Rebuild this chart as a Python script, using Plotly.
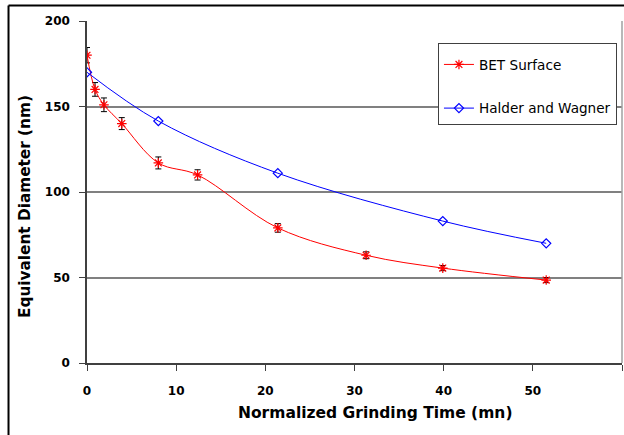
import plotly.graph_objects as go

# Data
bet_time = [0, 0.9, 1.9, 3.9, 8.0, 12.4, 21.4, 31.3, 39.9, 51.5]
bet_diam = [180, 160, 151, 140, 117, 110, 79, 63, 55.5, 48.5]
bet_err = [4.5, 4, 4, 3.5, 3.5, 3, 2.5, 2, 1.5, 1.5]

hw_time = [0, 8.0, 21.4, 39.9, 51.5]
hw_diam = [170, 141.5, 111, 83, 70]

x_ticks = [0, 10, 20, 30, 40, 50, 60]
y_ticks = [0, 50, 100, 150, 200]

FONT = "DejaVu Sans"

fig = go.Figure()
fig.add_trace(go.Scatter(
    x=bet_time, y=bet_diam, name="BET Surface", mode="lines+markers",
    legendgroup="a",
    line=dict(color="#ff0000", width=1, shape="spline"),
    marker=dict(symbol="asterisk-open", size=8, color="#ff0000",
                line=dict(color="#ff0000", width=1.2)),
    error_y=dict(type="data", array=bet_err, visible=True,
                 color="#000000", thickness=1, width=3),
))
fig.add_trace(go.Scatter(
    x=hw_time, y=hw_diam, name="Halder and Wagner", mode="lines+markers",
    legendgroup="b",
    line=dict(color="#0000ff", width=1, shape="spline"),
    marker=dict(symbol="diamond-open", size=7, color="#0000ff",
                line=dict(color="#0000ff", width=1.2)),
))

FX0, FY1 = -0.1467, 1.0453  # outer frame (left, top) in paper units

fig.update_layout(
    template="none",
    width=624, height=435,
    margin=dict(l=87, r=2, t=21, b=72, autoexpand=False),
    paper_bgcolor="white", plot_bgcolor="white",
    font=dict(family=FONT, color="#000000"),
    showlegend=True,
    legend=dict(
        x=0.656, y=0.936, xanchor="left", yanchor="top",
        bgcolor="white", bordercolor="#404040", borderwidth=1,
        font=dict(family=FONT, size=13.6, color="#000000"),
        traceorder="grouped", tracegroupgap=23,
        itemwidth=30,
        title=dict(text="&nbsp;", font=dict(size=4)),
    ),
    xaxis=dict(
        range=[0, 60], tickvals=x_ticks, ticktext=[str(v) for v in x_ticks],
        showgrid=False, zeroline=False, automargin=False,
        showline=True, linecolor="#404040", linewidth=1.5,
        ticks="outside", ticklen=6, tickcolor="#404040", tickwidth=1,
        ticklabelstandoff=10,
        tickfont=dict(family=FONT, size=12, weight="bold"),
    ),
    yaxis=dict(
        range=[0, 200], tickvals=y_ticks, ticktext=[str(v) for v in y_ticks],
        showgrid=True, gridcolor="#808080", gridwidth=1.5,
        zeroline=False, automargin=False,
        showline=True, linecolor="#404040", linewidth=1.5,
        ticks="outside", ticklen=6, tickcolor="#404040", tickwidth=1,
        ticklabelstandoff=7,
        tickfont=dict(family=FONT, size=12, weight="bold"),
    ),
    shapes=[
        # right border of plot area
        dict(type="line", xref="paper", yref="paper", x0=1, x1=1, y0=0, y1=1,
             line=dict(color="#a0a0a0", width=1.5)),
        # outer chart frame: left and top edges
        dict(type="line", xref="paper", yref="paper",
             x0=FX0, x1=FX0, y0=-0.3, y1=FY1,
             line=dict(color="#000000", width=2), layer="above"),
        dict(type="line", xref="paper", yref="paper",
             x0=FX0, x1=1.05, y0=FY1, y1=FY1,
             line=dict(color="#000000", width=2), layer="above"),
    ],
    annotations=[
        dict(text="Equivalent Diameter (nm)", xref="paper", yref="paper",
             x=-0.1159, y=0.459, xanchor="center", yanchor="middle",
             textangle=-90, showarrow=False,
             font=dict(family=FONT, size=15.3, weight="bold")),
        dict(text="Normalized Grinding Time (mn)", xref="paper", yref="paper",
             x=0.538, y=-0.147, xanchor="center", yanchor="middle",
             showarrow=False,
             font=dict(family=FONT, size=15.5, weight="bold")),
    ],
)

fig.write_html(
    "out.html",
    config={"displayModeBar": False},
    post_script="document.body.style.margin='0';document.body.style.padding='0';",
)
